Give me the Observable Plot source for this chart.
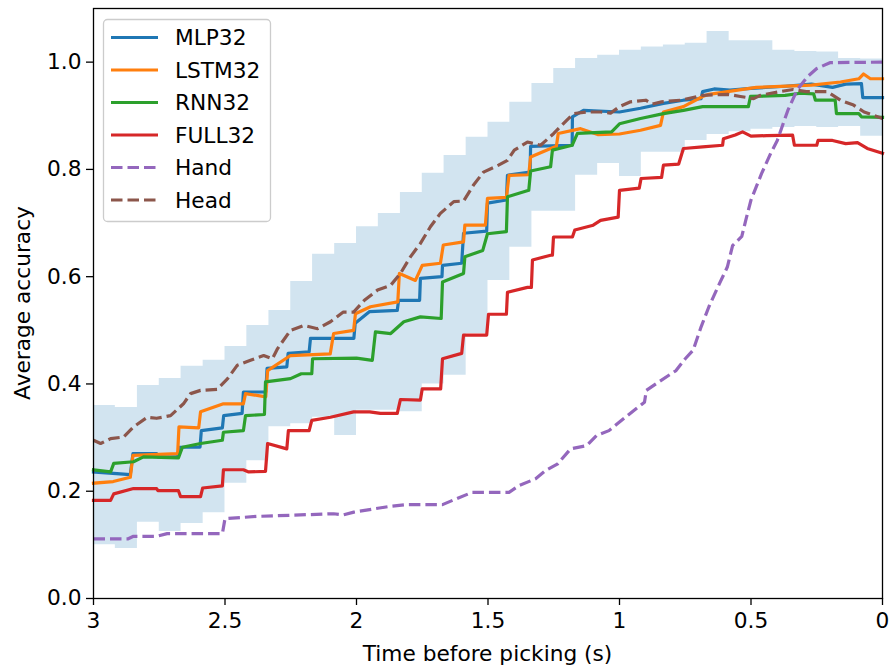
<!DOCTYPE html>
<html><head><meta charset="utf-8">
<script src="https://cdn.jsdelivr.net/npm/d3@7"></script>
<script src="https://cdn.jsdelivr.net/npm/@observablehq/plot@0.6"></script>
<style>
body{margin:0;background:#fff;}
#chart{position:relative;width:890px;height:668px;}
svg{font-family:"DejaVu Sans";}
</style>
</head><body><div id="chart"></div><script>
// ---- data (time before picking in s, accuracy) ----
const bandT  = [3, 2.917, 2.833, 2.75, 2.667, 2.583, 2.5, 2.417, 2.333, 2.25, 2.167, 2.083, 2, 1.917, 1.833, 1.75, 1.667, 1.583, 1.5, 1.417, 1.333, 1.25, 1.167, 1.083, 1, 0.917, 0.833, 0.75, 0.667, 0.583, 0.5, 0.417, 0.333, 0.25, 0.167, 0.083, 0];
const bandLo = [0.10, 0.093, 0.142, 0.125, 0.14, 0.16, 0.215, 0.257, 0.32, 0.326, 0.338, 0.304, 0.351, 0.351, 0.348, 0.40, 0.416, 0.494, 0.593, 0.655, 0.722, 0.722, 0.789, 0.811, 0.787, 0.832, 0.832, 0.854, 0.865, 0.87, 0.875, 0.878, 0.88, 0.878, 0.88, 0.862, 0.862];
const bandHi = [0.36, 0.356, 0.397, 0.41, 0.433, 0.444, 0.47, 0.509, 0.537, 0.591, 0.642, 0.662, 0.693, 0.718, 0.757, 0.793, 0.826, 0.86, 0.888, 0.925, 0.96, 0.988, 1.007, 1.013, 1.022, 1.028, 1.032, 1.035, 1.057, 1.04, 1.04, 1.022, 1.02, 1.019, 1.007, 1.006, 1.006];

const mlp32 = [[3.0,0.236],[2.86,0.231],[2.85,0.270],[2.76,0.270],[2.755,0.264],[2.68,0.264],[2.675,0.282],[2.595,0.282],[2.59,0.313],[2.51,0.318],[2.505,0.341],[2.435,0.345],[2.43,0.385],[2.345,0.385],[2.34,0.429],[2.265,0.432],[2.26,0.457],[2.18,0.46],[2.175,0.485],[2.01,0.485],[2.005,0.513],[1.95,0.535],[1.845,0.537],[1.84,0.556],[1.76,0.556],[1.757,0.597],[1.675,0.6],[1.673,0.621],[1.6,0.625],[1.593,0.681],[1.505,0.685],[1.502,0.737],[1.43,0.743],[1.426,0.789],[1.34,0.795],[1.338,0.843],[1.18,0.845],[1.179,0.898],[1.137,0.91],[1.0,0.907],[0.92,0.914],[0.833,0.923],[0.757,0.929],[0.69,0.932],[0.684,0.945],[0.64,0.95],[0.58,0.948],[0.5,0.951],[0.37,0.955],[0.27,0.959],[0.19,0.953],[0.14,0.959],[0.08,0.96],[0.075,0.934],[0,0.934]];
const lstm32 = [[3.0,0.215],[2.925,0.218],[2.86,0.226],[2.85,0.267],[2.68,0.27],[2.675,0.32],[2.6,0.318],[2.593,0.348],[2.506,0.363],[2.43,0.363],[2.422,0.382],[2.345,0.376],[2.338,0.425],[2.251,0.453],[2.1,0.456],[2.087,0.494],[2.011,0.5],[2.004,0.531],[1.947,0.544],[1.843,0.553],[1.837,0.606],[1.776,0.593],[1.75,0.621],[1.681,0.625],[1.67,0.659],[1.593,0.665],[1.588,0.696],[1.51,0.696],[1.502,0.746],[1.43,0.748],[1.42,0.789],[1.345,0.79],[1.338,0.823],[1.262,0.839],[1.24,0.843],[1.233,0.867],[1.148,0.876],[1.083,0.865],[1.0,0.866],[0.92,0.873],[0.844,0.882],[0.833,0.907],[0.757,0.917],[0.684,0.936],[0.66,0.94],[0.48,0.953],[0.27,0.957],[0.16,0.963],[0.09,0.969],[0.072,0.978],[0.046,0.969],[0,0.969]];
const rnn32 = [[3.0,0.24],[2.935,0.236],[2.923,0.252],[2.848,0.255],[2.81,0.264],[2.677,0.262],[2.662,0.282],[2.593,0.289],[2.51,0.295],[2.506,0.31],[2.43,0.313],[2.422,0.341],[2.35,0.343],[2.346,0.404],[2.251,0.41],[2.21,0.419],[2.17,0.419],[2.167,0.447],[2.0,0.448],[1.94,0.444],[1.928,0.497],[1.87,0.494],[1.82,0.516],[1.757,0.525],[1.678,0.522],[1.673,0.59],[1.593,0.606],[1.588,0.637],[1.52,0.649],[1.502,0.68],[1.43,0.684],[1.426,0.749],[1.345,0.761],[1.338,0.797],[1.262,0.805],[1.255,0.836],[1.18,0.845],[1.16,0.867],[1.03,0.87],[1.0,0.885],[0.92,0.895],[0.833,0.904],[0.757,0.91],[0.684,0.917],[0.51,0.917],[0.502,0.936],[0.37,0.938],[0.312,0.942],[0.262,0.941],[0.255,0.929],[0.18,0.929],[0.175,0.904],[0.09,0.904],[0.08,0.898],[0,0.897]];
const full32 = [[3.0,0.183],[2.935,0.183],[2.923,0.195],[2.848,0.205],[2.76,0.205],[2.755,0.201],[2.677,0.201],[2.669,0.19],[2.593,0.19],[2.585,0.206],[2.51,0.21],[2.506,0.24],[2.43,0.24],[2.41,0.236],[2.346,0.237],[2.338,0.289],[2.265,0.279],[2.259,0.313],[2.18,0.313],[2.17,0.332],[2.099,0.338],[2.011,0.348],[1.95,0.348],[1.909,0.345],[1.845,0.345],[1.833,0.371],[1.757,0.37],[1.75,0.391],[1.68,0.391],[1.673,0.447],[1.6,0.457],[1.593,0.491],[1.505,0.491],[1.498,0.53],[1.43,0.53],[1.426,0.571],[1.35,0.58],[1.335,0.58],[1.331,0.631],[1.262,0.64],[1.255,0.64],[1.251,0.674],[1.179,0.674],[1.17,0.687],[1.1,0.696],[1.072,0.705],[1.005,0.711],[1.0,0.761],[0.925,0.765],[0.918,0.783],[0.84,0.785],[0.833,0.808],[0.775,0.81],[0.757,0.839],[0.684,0.842],[0.608,0.845],[0.605,0.857],[0.56,0.864],[0.532,0.87],[0.5,0.862],[0.44,0.863],[0.342,0.864],[0.335,0.845],[0.25,0.845],[0.245,0.854],[0.19,0.854],[0.14,0.848],[0.095,0.85],[0.058,0.839],[0,0.83]];
const hand = [[3.0,0.111],[2.87,0.111],[2.848,0.116],[2.76,0.116],[2.72,0.121],[2.51,0.121],[2.5,0.149],[2.38,0.153],[2.087,0.158],[2.05,0.156],[2.01,0.161],[1.935,0.167],[1.87,0.172],[1.81,0.175],[1.673,0.175],[1.62,0.186],[1.56,0.198],[1.42,0.198],[1.38,0.211],[1.32,0.223],[1.28,0.239],[1.235,0.251],[1.186,0.279],[1.125,0.285],[1.087,0.304],[1.04,0.313],[0.97,0.341],[0.905,0.366],[0.898,0.388],[0.85,0.404],[0.785,0.425],[0.75,0.447],[0.72,0.463],[0.69,0.506],[0.66,0.544],[0.62,0.587],[0.59,0.618],[0.57,0.658],[0.535,0.675],[0.52,0.705],[0.5,0.743],[0.46,0.792],[0.425,0.83],[0.4,0.854],[0.36,0.91],[0.325,0.948],[0.285,0.973],[0.25,0.988],[0.2,0.999],[0,1.0]];
const head = [[3.0,0.295],[2.973,0.289],[2.935,0.298],[2.886,0.301],[2.848,0.32],[2.795,0.338],[2.76,0.336],[2.707,0.341],[2.658,0.363],[2.631,0.382],[2.593,0.388],[2.53,0.39],[2.49,0.41],[2.453,0.435],[2.403,0.444],[2.353,0.453],[2.32,0.447],[2.3,0.466],[2.251,0.5],[2.2,0.509],[2.148,0.503],[2.099,0.516],[2.05,0.534],[2.011,0.534],[1.97,0.556],[1.92,0.575],[1.87,0.584],[1.833,0.606],[1.795,0.637],[1.757,0.662],[1.719,0.693],[1.681,0.718],[1.63,0.74],[1.593,0.741],[1.555,0.771],[1.517,0.795],[1.46,0.808],[1.426,0.817],[1.4,0.836],[1.35,0.851],[1.3,0.845],[1.25,0.867],[1.2,0.892],[1.175,0.904],[1.125,0.907],[1.072,0.907],[1.034,0.905],[1.0,0.917],[0.958,0.926],[0.9,0.929],[0.875,0.922],[0.84,0.926],[0.768,0.929],[0.684,0.938],[0.59,0.94],[0.54,0.936],[0.49,0.932],[0.465,0.938],[0.39,0.945],[0.34,0.949],[0.29,0.945],[0.21,0.945],[0.16,0.929],[0.11,0.92],[0.07,0.907],[0,0.895]];

const seriesNames = ["MLP32", "LSTM32", "RNN32", "FULL32", "Hand", "Head"];
const seriesData = [mlp32, lstm32, rnn32, full32, hand, head];
const seriesColors = ["#1f77b4", "#ff7f0e", "#2ca02c", "#d62728", "#9467bd", "#8c564b"];
const seriesDashed = [false, false, false, false, true, true];
const xTicks = [3, 2.5, 2, 1.5, 1, 0.5, 0];
const yTicks = [0, 0.2, 0.4, 0.6, 0.8, 1.0];
const xLabel = "Time before picking (s)";
const yLabel = "Average accuracy";

// ---- chart ----
const band = bandT.map((t, i) => ({t, lo: bandLo[i], hi: bandHi[i]}));
const FONT = 21.7;
const LW = 3.2;
const DASH = "11.5,5";
const lineMarks = seriesData.map((d, i) => Plot.line(d, {
  x: p => p[0], y: p => p[1],
  stroke: seriesColors[i], strokeWidth: LW,
  strokeDasharray: seriesDashed[i] ? DASH : null,
  strokeLinecap: seriesDashed[i] ? "butt" : "square",
  strokeLinejoin: "round"
}));

const chart = Plot.plot({
  width: 890, height: 668,
  marginLeft: 93, marginRight: 8, marginTop: 8, marginBottom: 70,
  style: {fontFamily: "DejaVu Sans", fontSize: FONT + "px", background: "white", color: "black", overflow: "visible"},
  x: {domain: [3, 0], label: null},
  y: {domain: [0, 1.1], label: null},
  marks: [
    Plot.areaY(band, {x: "t", y1: "lo", y2: "hi", curve: "step-after", fill: "#1f77b4", fillOpacity: 0.2}),
    ...lineMarks,
    Plot.frame({stroke: "black", strokeWidth: 1.3}),
    Plot.axisX({ticks: xTicks, tickSize: 7, tickPadding: 7, tickFormat: d => String(d), fontSize: FONT, strokeWidth: 1.3}),
    Plot.axisY({ticks: yTicks, tickSize: 7, tickPadding: 5, tickFormat: d3.format(".1f"), fontSize: FONT, strokeWidth: 1.3})
  ]
});
document.getElementById("chart").appendChild(chart);

// axis titles and legend
const svg = d3.select(chart);
svg.append("text").attr("x", 487.5).attr("y", 661).attr("text-anchor", "middle")
  .attr("font-size", FONT).attr("fill", "black").text(xLabel);
svg.append("text").attr("transform", "translate(22,303) rotate(-90)").attr("dy", "0.35em")
  .attr("text-anchor", "middle").attr("font-size", FONT).attr("fill", "black").text(yLabel);

const lg = svg.append("g");
lg.append("rect").attr("x", 103.5).attr("y", 19.5).attr("width", 167).attr("height", 202)
  .attr("rx", 4).attr("fill", "white").attr("fill-opacity", 0.8).attr("stroke", "#cccccc").attr("stroke-width", 1.3);
seriesNames.forEach((name, i) => {
  const y = 37.5 + i * 32.5;
  lg.append("line").attr("x1", 111).attr("x2", 158).attr("y1", y).attr("y2", y)
    .attr("stroke", seriesColors[i]).attr("stroke-width", LW)
    .attr("stroke-dasharray", seriesDashed[i] ? DASH : null);
  lg.append("text").attr("x", 175).attr("y", y).attr("dy", "0.36em")
    .attr("text-anchor", "start")
    .attr("font-size", FONT).attr("fill", "black").text(name);
});
</script></body></html>
